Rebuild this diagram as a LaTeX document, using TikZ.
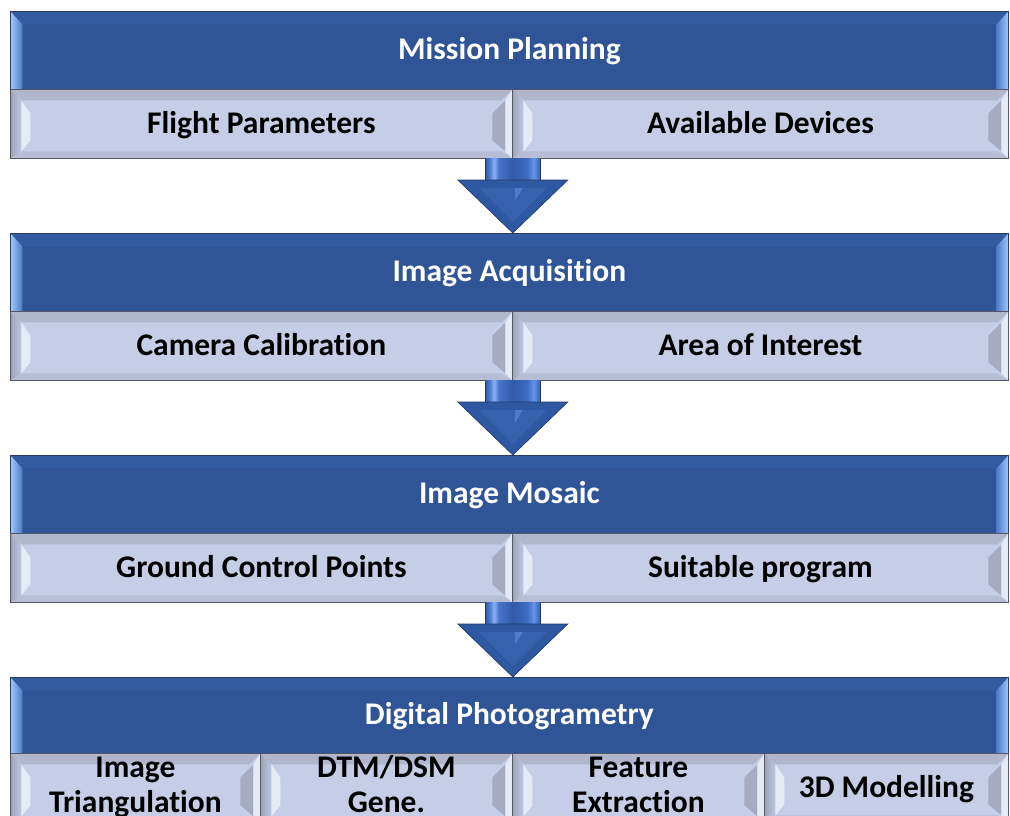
\documentclass[tikz,border=0pt]{standalone}
\usepackage{fontspec}
\setmainfont{Carlito}[Ligatures=NoCommon]
\usetikzlibrary{calc}

\definecolor{barblue}{RGB}{47,85,151}
\definecolor{bartop}{RGB}{51,91,160}
\definecolor{barline}{RGB}{38,58,98}
\definecolor{barlightout}{RGB}{160,200,250}
\definecolor{barlightin}{RGB}{78,122,198}
\definecolor{cellfill}{RGB}{197,205,231}
\definecolor{cellline}{RGB}{85,88,100}
\definecolor{celltop}{RGB}{176,183,205}
\definecolor{cellbot}{RGB}{182,189,213}
\definecolor{cellside}{RGB}{158,163,184}
\definecolor{cellhi}{RGB}{230,234,246}
\definecolor{headblue}{RGB}{47,88,162}
\definecolor{headinner}{RGB}{54,97,172}
\definecolor{headhi}{RGB}{78,124,200}
\definecolor{arrowline}{RGB}{32,56,104}

% glossy shading across the arrow shaft (path spans 25bp..75bp)
\pgfdeclarehorizontalshading{shaftshade}{100bp}{%
  rgb(0bp)=(0.20,0.36,0.66);
  rgb(25bp)=(0.20,0.36,0.66);
  rgb(29bp)=(0.30,0.48,0.82);
  rgb(33bp)=(0.55,0.70,0.95);
  rgb(37bp)=(0.28,0.46,0.80);
  rgb(50bp)=(0.19,0.35,0.66);
  rgb(63bp)=(0.24,0.42,0.76);
  rgb(69bp)=(0.40,0.58,0.90);
  rgb(75bp)=(0.22,0.38,0.70);
  rgb(100bp)=(0.22,0.38,0.70)}

% corner helpers for path pictures
\newcommand\ppbox{let \p1=(path picture bounding box.north west),
  \p2=(path picture bounding box.south east) in}

% bevel facets of a dark title bar
\newcommand\barfacets{%
  \fill[bartop] \ppbox (\x1,\y1)--(\x2,\y1)--(\x2-12pt,\y1-13pt)--(\x1+12pt,\y1-13pt)--cycle;
  \shade[left color=barlightout, right color=barlightin] \ppbox
    (\x1,\y1)--(\x1+12pt,\y1-13pt)--(\x1+12pt,\y2)--(\x1,\y2)--cycle;
  \shade[left color=barlightin, right color=barlightout] \ppbox
    (\x2,\y1)--(\x2-12pt,\y1-13pt)--(\x2-12pt,\y2)--(\x2,\y2)--cycle;
}

% bevel facets of a light sub-cell
\newcommand\cellfacets{%
  \fill[celltop] \ppbox (\x1,\y1)--(\x2,\y1)--(\x2-11pt,\y1-11pt)--(\x1+11pt,\y1-11pt)--cycle;
  \fill[cellbot] \ppbox (\x1,\y2)--(\x2,\y2)--(\x2-11pt,\y2+7pt)--(\x1+11pt,\y2+7pt)--cycle;
  \shade[left color=cellside, right color=cellfill!85!cellside] \ppbox
    (\x1,\y1)--(\x1+11pt,\y1-11pt)--(\x1+11pt,\y2+7pt)--(\x1,\y2)--cycle;
  \fill[cellhi] \ppbox
    (\x1+11pt,\y1-11pt)--(\x1+20pt,\y1-24pt)--(\x1+20pt,\y2+18pt)--(\x1+11pt,\y2+7pt)--cycle;
  \fill[cellside!80!cellfill] \ppbox
    (\x2-7pt,\y1-11pt)--(\x2-20pt,\y1-24pt)--(\x2-20pt,\y2+18pt)--(\x2-7pt,\y2+7pt)--cycle;
  \fill[cellhi] \ppbox
    (\x2,\y1)--(\x2-7pt,\y1-11pt)--(\x2-7pt,\y2+7pt)--(\x2,\y2)--cycle;
}

% block arrow from the lower row of one stage to the next title bar
\newcommand\flowarrow[2]{%
  \shade[shading=shaftshade]
    let \p1=(#1.south east), \p2=(#2.north -| #1.south east) in
    (\x1-27.5pt,\y1) rectangle (\x1+27.5pt,\y2+53pt);
  \draw[arrowline, line width=0.6pt]
    let \p1=(#1.south east), \p2=(#2.north -| #1.south east) in
    (\x1-27.5pt,\y1)--(\x1-27.5pt,\y2+53pt) (\x1+27.5pt,\y1)--(\x1+27.5pt,\y2+53pt);
  \filldraw[fill=headblue, draw=arrowline, line width=0.6pt]
    let \p1=(#1.south east), \p2=(#2.north -| #1.south east) in
    (\x1-55pt,\y2+53pt)--(\x1+55pt,\y2+53pt)--(\x1,\y2)--cycle;
  \fill[headinner]
    let \p1=(#1.south east), \p2=(#2.north -| #1.south east) in
    (\x1-34pt,\y2+45pt)--(\x1+34pt,\y2+45pt)--(\x1,\y2+11pt)--cycle;
  \fill[headhi]
    let \p1=(#1.south east), \p2=(#2.north -| #1.south east) in
    (\x1+2pt,\y2+45pt)--(\x1+10pt,\y2+45pt)--(\x1+2pt,\y2+32pt)--cycle;
}

\tikzset{
  txt/.style={font=\bfseries\fontsize{31.5}{35}\selectfont, align=center},
  oneline/.style={text height=23pt, text depth=4pt},
  bar/.style={txt, oneline, anchor=north west, inner sep=0pt, minimum width=998pt,
    minimum height=78pt, fill=barblue, draw=barline, line width=0.8pt,
    text=white, path picture={\barfacets}},
  cell/.style={txt, anchor=north west, inner sep=0pt, minimum height=69pt,
    fill=cellfill, draw=cellline, line width=0.8pt, text=black,
    path picture={\cellfacets}},
}

\begin{document}
\begin{tikzpicture}[x=1pt,y=-1pt]
\useasboundingbox (0,0) rectangle (1010,816);
\clip (0,0) rectangle (1010,816);

% stage 1
\node[bar] (mp) at (10,11) {Mission Planning};
\node[cell, oneline, minimum width=502pt] (fp) at (10,89) {Flight Parameters};
\node[cell, oneline, minimum width=496pt] (ad) at (512,89) {Available Devices};

% stage 2
\node[bar] (ia) at (10,233) {Image Acquisition};
\node[cell, oneline, minimum width=502pt] (cc) at (10,311) {Camera Calibration};
\node[cell, oneline, minimum width=496pt] (ai) at (512,311) {Area of Interest};

% stage 3
\node[bar] (im) at (10,455) {Image Mosaic};
\node[cell, oneline, minimum width=502pt] (gc) at (10,533) {Ground Control Points};
\node[cell, oneline, minimum width=496pt] (sp) at (512,533) {Suitable program};

% stage 4
\node[bar, minimum height=76pt] (dp) at (10,677) {Digital Photogrametry};
\node[cell, minimum width=250pt] (it) at (10,753) {\strut Image\\\strut Triangulation};
\node[cell, minimum width=252pt] (dg) at (260,753) {\strut DTM/DSM\\\strut Gene.};
\node[cell, minimum width=252pt] (fe) at (512,753) {\strut Feature\\\strut Extraction};
\node[cell, oneline, minimum width=244pt] (md) at (764,753) {3D Modelling};

% arrows between stages
\flowarrow{fp}{ia}
\flowarrow{cc}{im}
\flowarrow{gc}{dp}
\end{tikzpicture}
\end{document}
